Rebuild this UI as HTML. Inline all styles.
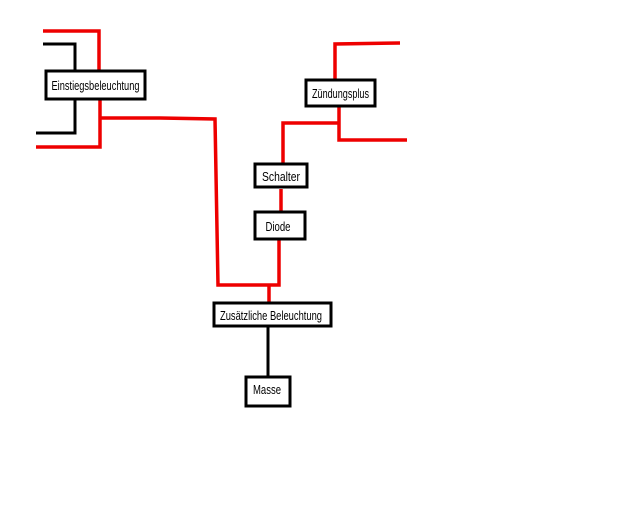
<!DOCTYPE html>
<html><head><meta charset="utf-8"><style>
html,body{margin:0;padding:0;background:#fff;}
svg{display:block}
text{font-family:"Liberation Sans Narrow","Liberation Sans",sans-serif;font-size:13px;fill:#000;}
</style></head><body>
<svg width="640" height="512" viewBox="0 0 640 512" xmlns="http://www.w3.org/2000/svg">
<g fill="none" stroke-linejoin="miter" stroke-linecap="butt">
<g stroke="#000" stroke-width="3">
<polyline points="43,44 75,44 75,70"/>
<polyline points="75,100 75,133 36,133"/>
<line x1="268" y1="327" x2="268" y2="376"/>
</g>
<g stroke="#e00" stroke-width="3.5">
<polyline points="43,31 99,31 99,70"/>
<polyline points="100,100 100,147 36,147"/>
<polyline points="100,118 160,118 215,119 218,285 279,285 279,240"/>
<line x1="269" y1="285" x2="269" y2="302"/>
<polyline points="335,79 335,44 400,43"/>
<polyline points="339,107 339,140 407,140"/>
<polyline points="339,123 283,123 283,163"/>
<line x1="281" y1="189" x2="281" y2="211"/>
</g>
<g stroke="#000" stroke-width="3" fill="#fff">
<rect x="46" y="71" width="99" height="28"/>
<rect x="306" y="80" width="69" height="26"/>
<rect x="255" y="164" width="52" height="23"/>
<rect x="255" y="212" width="50" height="27"/>
<rect x="214" y="303" width="117" height="23"/>
<rect x="246" y="377" width="44" height="29"/>
</g>
</g>
<text x="95.5" y="90" text-anchor="middle" textLength="88" lengthAdjust="spacingAndGlyphs">Einstiegsbeleuchtung</text>
<text x="340.5" y="98" text-anchor="middle" textLength="57" lengthAdjust="spacingAndGlyphs">Zündungsplus</text>
<text x="281" y="181" text-anchor="middle" textLength="38" lengthAdjust="spacingAndGlyphs">Schalter</text>
<text x="278" y="231" text-anchor="middle" textLength="25" lengthAdjust="spacingAndGlyphs">Diode</text>
<text x="271" y="320" text-anchor="middle" textLength="102" lengthAdjust="spacingAndGlyphs">Zusätzliche Beleuchtung</text>
<text x="267" y="394" text-anchor="middle" textLength="28" lengthAdjust="spacingAndGlyphs">Masse</text>
</svg>
</body></html>
